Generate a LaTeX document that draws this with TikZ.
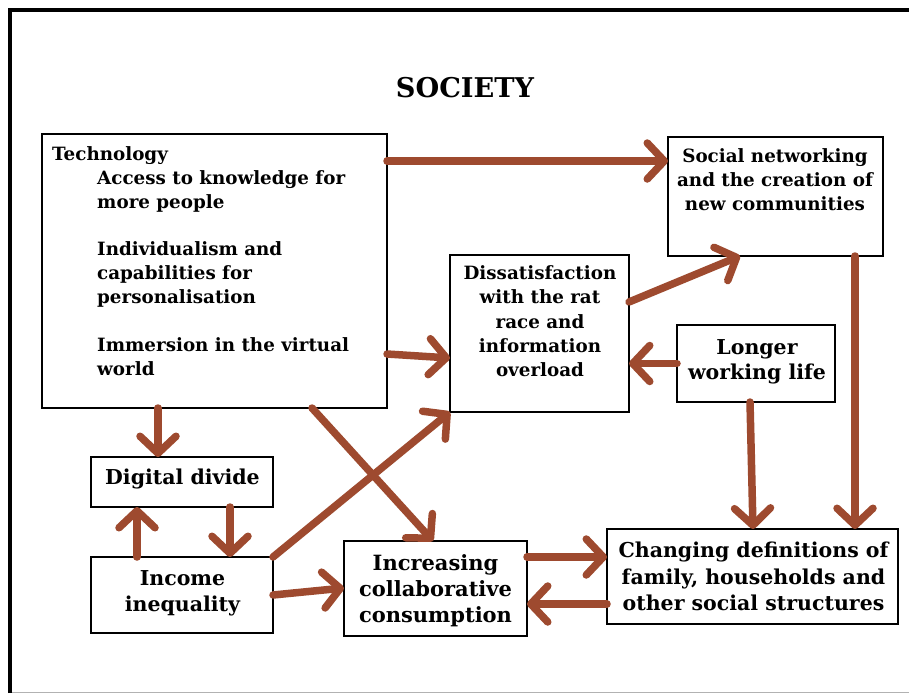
\documentclass[tikz,border=0pt]{standalone}
\usepackage{fontspec}
\setmainfont{DejaVu Serif}
\usetikzlibrary{arrows.meta}
\definecolor{arr}{RGB}{158,74,47}
\tikzset{
  box/.style={draw=black, line width=1.6pt, minimum width=#1, anchor=north west, inner sep=0pt, outer sep=0pt},
  txt/.style={font=\bfseries\fontsize{18.3}{24}\selectfont, inner sep=0pt, align=center, anchor=north},
  big/.style={font=\bfseries\fontsize{20.5}{#1}\selectfont},
  flow/.style={draw=arr, line width=7.5pt, line cap=round, -{Straight Barb[length=17pt,width=36pt,round]}}
}
\begin{document}
\begin{tikzpicture}[x=1pt,y=-1pt]
\useasboundingbox (0,0) rectangle (909,693);
\fill[white] (0,0) rectangle (909,693);
% frame
\draw[line width=4pt] (10,693) -- (10,10) -- (909,10);
\draw[line width=1pt, black!30] (12,692) -- (909,692);
\node[font=\bfseries\fontsize{27.2}{30}\selectfont, inner sep=0pt] (title) at (465,88) {SOCIETY};
% boxes
\node[box=345pt, minimum height=274pt] (tech) at (42,134) {};
\node[box=215pt, minimum height=119pt] (soc) at (668,137) {};
\node[box=179pt, minimum height=157pt] (dis) at (450,255) {};
\node[box=158pt, minimum height=77pt] (lon) at (677,325) {};
\node[box=182pt, minimum height=50pt] (dig) at (91,457) {};
\node[box=182pt, minimum height=76pt] (inc) at (91,557) {};
\node[box=183pt, minimum height=95pt] (col) at (344,541) {};
\node[box=291pt, minimum height=95pt] (chg) at (607,529) {};
% texts
\node[txt, anchor=north west] (techhead) at (52,146) {Technology};
\node[txt, anchor=north west, align=left] (techitems) at (97,170) {Access to knowledge for\\more people\\[23.5pt]Individualism and\\capabilities for\\personalisation\\[23.5pt]Immersion in the virtual\\world};
\node[txt] (soct) at (775,148) {Social networking\\and the creation of\\new communities};
\node[txt, font=\bfseries\fontsize{18.3}{24.25}\selectfont] (dist) at (540,265.5) {Dissatisfaction\\with the rat\\race and\\information\\overload};
\node[txt, big=25] (lont) at (757,339) {Longer\\working life};
\node[txt, big=26] (digt) at (182.5,469) {Digital divide};
\node[txt, big=26] (inct) at (182.5,570) {Income\\inequality};
\node[txt, font=\bfseries\fontsize{21}{26}\selectfont] (colt) at (435.5,554) {Increasing\\collaborative\\consumption};
\node[txt, big=26.5] (chgt) at (753.5,542) {Changing definitions of\\family, households and\\other social structures};
% arrows
\draw[flow] ([yshift=-27pt]tech.north east) -- ([yshift=-24pt]soc.north west);
\draw[flow] ([yshift=-220pt]tech.north east) -- ([yshift=-103pt]dis.north west);
\draw[flow] ([yshift=-47pt]dis.north east) -- ([xshift=72pt]soc.south west);
\draw[flow] (lon.west) -- (lon.west -| dis.east);
\draw[flow] ([xshift=-28pt]soc.south east) -- ([xshift=-43pt]chg.north east);
\draw[flow] ([xshift=73pt]lon.south west) -- ([xshift=146pt]chg.north west);
\draw[flow] ([xshift=116pt]tech.south west) -- ([xshift=67pt]dig.north west);
\draw[flow] ([xshift=46pt]inc.north west) -- ([xshift=46pt]dig.south west);
\draw[flow] ([xshift=139pt]dig.south west) -- ([xshift=139pt]inc.north west);
\draw[flow] (inc.north east) -- (dis.south west);
\draw[flow] ([xshift=270pt]tech.south west) -- ([xshift=89pt]col.north west);
\draw[flow] ([yshift=-38pt]inc.north east) -- ([yshift=-47pt]col.north west);
\draw[flow] ([yshift=-16pt]col.north east) -- ([yshift=-28pt]chg.north west);
\draw[flow] ([yshift=-75pt]chg.north west) -- ([yshift=-63pt]col.north east);
\end{tikzpicture}
\end{document}
